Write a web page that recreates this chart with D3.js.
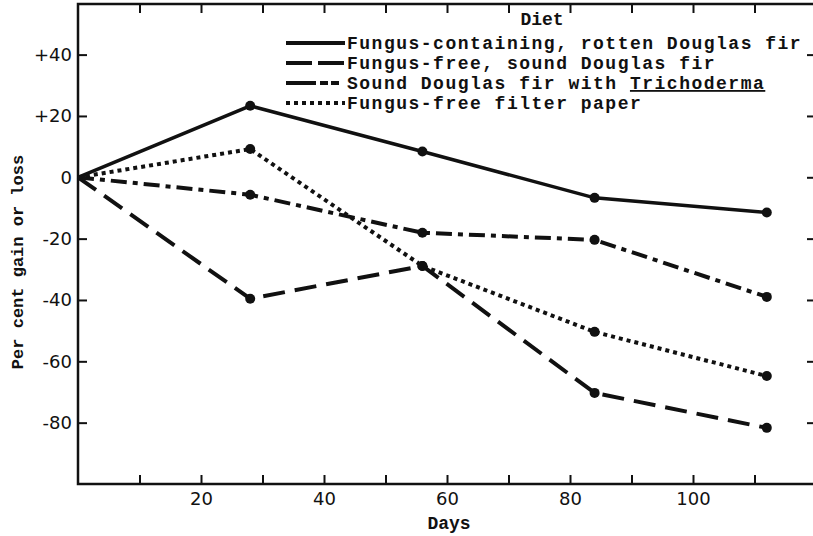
<!DOCTYPE html>
<html>
<head>
<meta charset="utf-8">
<script src="https://d3js.org/d3.v7.min.js"></script>
<style>
  body { margin: 0; background: #fff; }
  .tick text { font-family: "DejaVu Sans", sans-serif; font-size: 18px; fill: #111; }
  .mono { font-family: "Liberation Mono", "DejaVu Sans Mono", monospace; font-weight: bold; fill: #111; }
</style>
</head>
<body>
<div id="chart"></div>
<script>
// days sampled
var days = [0, 28, 56, 84, 112];

// per cent gain or loss
var rottenFir = [0, 23.3, 8.4, -6.7, -11.5];
var soundFir = [0, -39.6, -28.9, -70.3, -81.7];
var trichoderma = [0, -5.7, -18.1, -20.4, -39];
var filterPaper = [0, 9.2, -28.9, -50.4, -64.8];

var seriesNames = [
  "Fungus-containing, rotten Douglas fir",
  "Fungus-free, sound Douglas fir",
  "Sound Douglas fir with Trichoderma",
  "Fungus-free filter paper"
];
var seriesValues = [rottenFir, soundFir, trichoderma, filterPaper];

var xTicks = [10, 20, 30, 40, 50, 60, 70, 80, 90, 100, 110];
var yTicks = [40, 20, 0, -20, -40, -60, -80];

// line styles (not data)
var dashes = [null, "22,10", "16,6,5,6", "4,4"];

var W = 813, H = 536;

var svg = d3.select("#chart").append("svg")
    .attr("width", W)
    .attr("height", H);

var x = d3.scaleLinear().domain([0, 120]).range([78, 816]);
var y = d3.scaleLinear().domain([-100, 56.5]).range([484, 4]);

// frame
svg.append("rect")
    .attr("x", x(0)).attr("y", y(56.5))
    .attr("width", x(120) - x(0)).attr("height", y(-100) - y(56.5))
    .attr("fill", "none").attr("stroke", "#111").attr("stroke-width", 2.5);

// bottom axis
var xb = svg.append("g")
    .attr("transform", "translate(0," + y(-100) + ")")
    .call(d3.axisBottom(x).tickValues(xTicks).tickSizeInner(-9).tickSizeOuter(0).tickPadding(8)
      .tickFormat(function(d) { return d % 20 === 0 ? d : ""; }));
// top axis
var xt = svg.append("g")
    .attr("transform", "translate(0," + y(56.5) + ")")
    .call(d3.axisTop(x).tickValues(xTicks).tickSizeInner(-9).tickSizeOuter(0).tickFormat(""));
// left axis
var yl = svg.append("g")
    .attr("transform", "translate(" + x(0) + ",0)")
    .call(d3.axisLeft(y).tickValues(yTicks).tickSizeInner(-9).tickSizeOuter(0).tickPadding(6)
      .tickFormat(function(d) { return d > 0 ? "+" + d : String(d); }));
// right axis
var yr = svg.append("g")
    .attr("transform", "translate(" + x(120) + ",0)")
    .call(d3.axisRight(y).tickValues(yTicks).tickSizeInner(-9).tickSizeOuter(0).tickFormat(""));

[xb, xt, yl, yr].forEach(function(g) {
  g.select(".domain").remove();
  g.selectAll(".tick line").attr("stroke", "#111").attr("stroke-width", 2);
});

// series lines
var line = d3.line()
    .x(function(d, i) { return x(days[i]); })
    .y(function(d) { return y(d); });

seriesValues.forEach(function(vals, s) {
  svg.append("path")
      .datum(vals)
      .attr("d", line)
      .attr("fill", "none")
      .attr("stroke", "#111")
      .attr("stroke-width", s === 0 ? 3.5 : 4)
      .attr("stroke-dasharray", dashes[s]);

  svg.selectAll(".pt" + s)
      .data(vals.slice(1))
      .enter().append("circle")
      .attr("class", "pt" + s)
      .attr("cx", function(d, i) { return x(days[i + 1]); })
      .attr("cy", function(d) { return y(d); })
      .attr("r", 5)
      .attr("fill", "#111");
});

// legend
svg.append("text")
    .attr("class", "mono")
    .attr("x", 542).attr("y", 25)
    .attr("text-anchor", "middle")
    .attr("font-size", 18)
    .text("Diet");

var leg = svg.append("g");
seriesNames.forEach(function(name, s) {
  var ly = 43 + s * 20;
  leg.append("line")
      .attr("x1", 286).attr("x2", 345)
      .attr("y1", ly).attr("y2", ly)
      .attr("stroke", "#111")
      .attr("stroke-width", 4)
      .attr("stroke-dasharray", s === 1 ? "26,6" : s === 2 ? "30,4,8,3,8" : s === 3 ? "4,4" : null);
  var t = leg.append("text")
      .attr("class", "mono")
      .attr("x", 347).attr("y", ly + 6)
      .attr("font-size", 18)
      .attr("letter-spacing", 1.5);
  if (name.indexOf("Trichoderma") >= 0) {
    t.append("tspan").text(name.replace("Trichoderma", ""));
    t.append("tspan").attr("text-decoration", "underline").text("Trichoderma");
  } else {
    t.text(name);
  }
});

// axis titles
svg.append("text")
    .attr("class", "mono")
    .attr("transform", "translate(23," + 262 + ") rotate(-90)")
    .attr("text-anchor", "middle")
    .attr("font-size", 17)
    .text("Per cent gain or loss");

svg.append("text")
    .attr("class", "mono")
    .attr("x", 449).attr("y", 529)
    .attr("text-anchor", "middle")
    .attr("font-size", 18)
    .text("Days");
</script>
</body>
</html>
